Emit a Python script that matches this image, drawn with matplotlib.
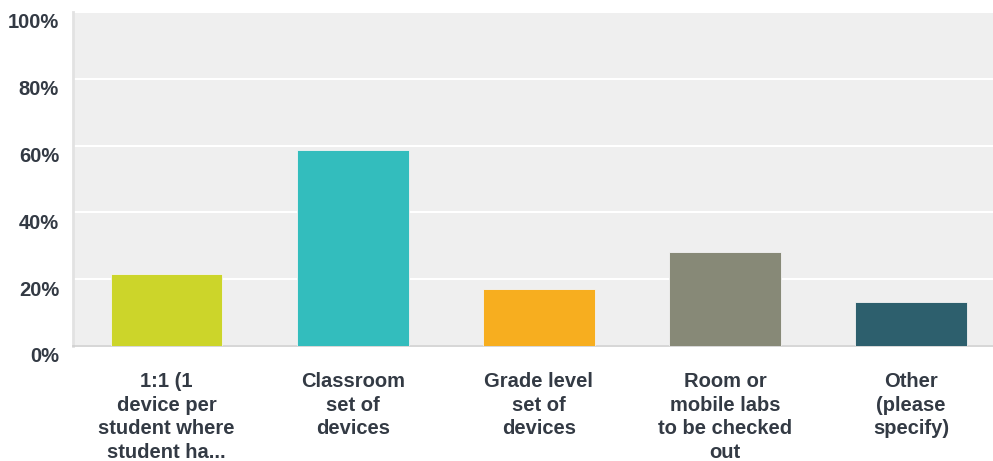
import matplotlib
matplotlib.use("Agg")
import matplotlib.pyplot as plt
import matplotlib.transforms as mtransforms

# data
categories = ["1:1 (1\ndevice per\nstudent where\nstudent ha...",
              "Classroom\nset of\ndevices",
              "Grade level\nset of\ndevices",
              "Room or\nmobile labs\nto be checked\nout",
              "Other\n(please\nspecify)"]
percents = [21.6, 58.7, 17.1, 28.1, 13.2]
colors = ["#ccd52a", "#33bdbd", "#f7ae1f", "#878977", "#2d5f6d"]
yticks = [0, 20, 40, 60, 80, 100]

plt.rcParams['font.family'] = ['Liberation Sans', 'DejaVu Sans']

fig = plt.figure(figsize=(9.93, 4.61), dpi=100)
ax = fig.add_axes([0.0735, 0.2495, 0.9265, 0.7245])
ax.set_facecolor("#efefef")

x = list(range(len(categories)))
ax.bar(x, percents, width=0.6, color=colors, edgecolor="#f4f4f4", linewidth=0.6, zorder=3)

ax.set_ylim(0, 100)
ax.set_xlim(-0.503, 4.44)
ax.set_yticks(yticks)
ax.set_yticklabels([f"{t}%" for t in yticks])
ax.yaxis.grid(True, color="white", linewidth=1.5, zorder=1)
ax.set_axisbelow(True)

ax.set_xticks(x)
ax.set_xticklabels(categories, linespacing=1.3, va="top")
ax.tick_params(axis="both", length=0, labelsize=14.5, labelcolor="#333a44")
ax.tick_params(axis="x", pad=19)
ax.tick_params(axis="y", pad=10)
for lab in ax.get_xticklabels() + ax.get_yticklabels():
    lab.set_fontweight("bold")

# y labels sit a bit below their gridlines in the original
off = mtransforms.ScaledTranslation(0, -9 / 100, fig.dpi_scale_trans)
for lab in ax.get_yticklabels():
    lab.set_transform(lab.get_transform() + off)

for s in ["top", "right"]:
    ax.spines[s].set_visible(False)
ax.spines["left"].set_color("#e2e2e2")
ax.spines["left"].set_linewidth(2)
ax.spines["bottom"].set_color("#cfcfcf")
ax.spines["bottom"].set_linewidth(1.2)

fig.savefig("out.png", dpi=100)
